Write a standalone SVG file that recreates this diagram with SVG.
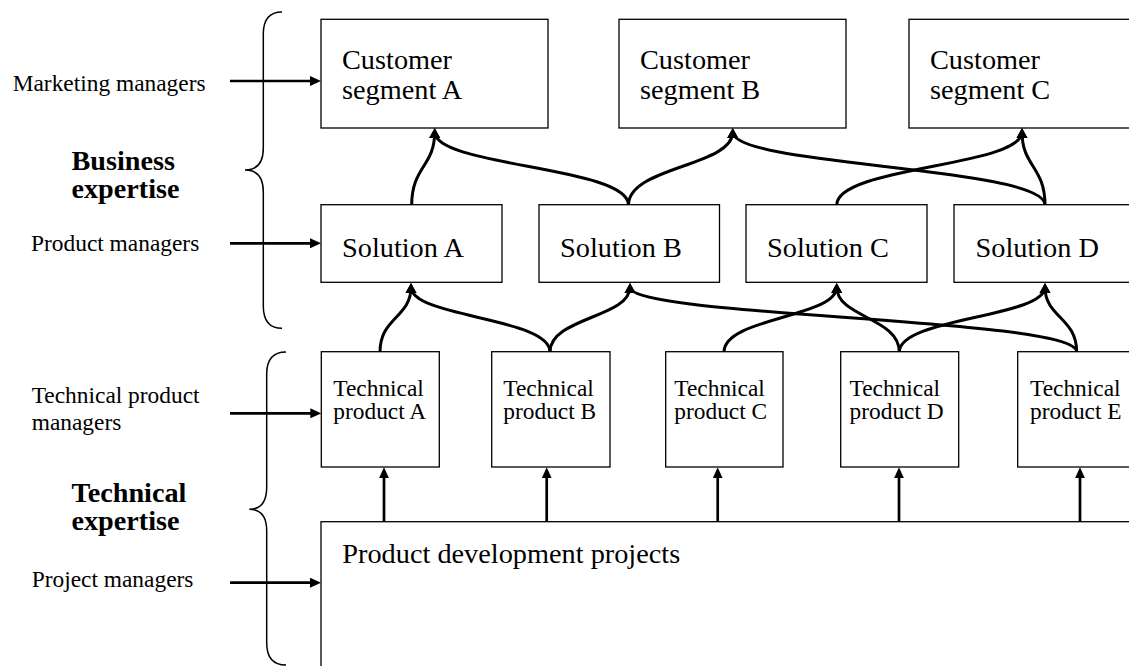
<svg xmlns="http://www.w3.org/2000/svg" width="1129" height="666" viewBox="0 0 1129 666">
  <style>
    .box { fill: #fff; stroke: #000; stroke-width: 1.3; }
    .t28 { font-family: "Liberation Serif", "Times New Roman", serif; font-size: 28.3px; fill: #000; }
    .t23 { font-family: "Liberation Serif", "Times New Roman", serif; font-size: 23.4px; fill: #000; }
    .bold { font-family: "Liberation Serif", "Times New Roman", serif; font-size: 28.2px; font-weight: bold; fill: #000; }
    .brace { fill: none; stroke: #000; stroke-width: 1.5; }
    .curve { fill: none; stroke: #000; stroke-width: 3; marker-end: url(#headCurve); }
    .straight { fill: none; stroke: #000; stroke-width: 2.7; marker-end: url(#head); }
  </style>
  <defs>
    <marker id="head" markerUnits="userSpaceOnUse" viewBox="0 0 11 10" markerWidth="11" markerHeight="10" refX="7" refY="5" orient="auto">
      <path d="M0,0 L11,5 L0,10 z" fill="#000"/>
    </marker>
    <marker id="headCurve" markerUnits="userSpaceOnUse" viewBox="0 0 10 12" markerWidth="10" markerHeight="12" refX="6" refY="6" orient="auto">
      <path d="M0,0.5 L10,6 L0,11.5 z" fill="#000"/>
    </marker>
  </defs>

  <rect width="1129" height="666" fill="#fff"/>

  <!-- role labels on the left -->
  <g id="roles">
    <text class="t23" x="12.7" y="90.7">Marketing managers</text>
    <text class="t23" x="31" y="250.7">Product managers</text>
    <text class="t23" x="31.7" y="403.3">Technical product</text>
    <text class="t23" x="31.7" y="430">managers</text>
    <text class="t23" x="31.7" y="586.7">Project managers</text>
    <text class="bold" x="71.5" y="169.5">Business</text>
    <text class="bold" x="71.5" y="197.5">expertise</text>
    <text class="bold" x="71.5" y="502">Technical</text>
    <text class="bold" x="71.5" y="530">expertise</text>
  </g>

  <!-- curly braces grouping the roles -->
  <g id="braces">
    <path class="brace" d="M282,12 Q263.3,12 263.3,34 L263.3,148 Q263.3,170 245,170 Q263.3,170 263.3,192 L263.3,306 Q263.3,328.3 282,328.3"/>
    <path class="brace" d="M286,352 Q266.7,352 266.7,374 L266.7,487 Q266.7,509.3 249.3,509.3 Q266.7,509.3 266.7,531 L266.7,643 Q266.7,665 286,665"/>
  </g>

  <!-- customer segments -->
  <g id="cust-a">
    <rect class="box" x="321" y="19.3" width="227" height="108.7"/>
    <text class="t28" x="342" y="69.3">Customer</text>
    <text class="t28" x="342" y="99">segment A</text>
  </g>
  <g id="cust-b">
    <rect class="box" x="619" y="19.3" width="227" height="108.7"/>
    <text class="t28" x="640" y="69.3">Customer</text>
    <text class="t28" x="640" y="99">segment B</text>
  </g>
  <g id="cust-c">
    <rect class="box" x="909" y="19.3" width="240" height="108.7"/>
    <text class="t28" x="930" y="69.3">Customer</text>
    <text class="t28" x="930" y="99">segment C</text>
  </g>

  <!-- solutions -->
  <g id="sol-a">
    <rect class="box" x="321" y="204.7" width="181" height="77.6"/>
    <text class="t28" x="342" y="256.7">Solution A</text>
  </g>
  <g id="sol-b">
    <rect class="box" x="539" y="204.7" width="180.5" height="77.6"/>
    <text class="t28" x="560" y="256.7">Solution B</text>
  </g>
  <g id="sol-c">
    <rect class="box" x="746" y="204.7" width="181" height="77.6"/>
    <text class="t28" x="767" y="256.7">Solution C</text>
  </g>
  <g id="sol-d">
    <rect class="box" x="954" y="204.7" width="200" height="77.6"/>
    <text class="t28" x="975.5" y="256.7">Solution D</text>
  </g>

  <!-- technical products -->
  <g id="tech-a">
    <rect class="box" x="321.3" y="351.7" width="118" height="115.3"/>
    <text class="t23" x="333.3" y="395.7">Technical</text>
    <text class="t23" x="333.3" y="419.3">product A</text>
  </g>
  <g id="tech-b">
    <rect class="box" x="491.7" y="351.7" width="118.3" height="115.3"/>
    <text class="t23" x="503.3" y="395.7">Technical</text>
    <text class="t23" x="503.3" y="419.3">product B</text>
  </g>
  <g id="tech-c">
    <rect class="box" x="665.7" y="351.7" width="117.3" height="115.3"/>
    <text class="t23" x="674.3" y="395.7">Technical</text>
    <text class="t23" x="674.3" y="419.3">product C</text>
  </g>
  <g id="tech-d">
    <rect class="box" x="840.7" y="351.7" width="118" height="115.3"/>
    <text class="t23" x="849.5" y="395.7">Technical</text>
    <text class="t23" x="849.5" y="419.3">product D</text>
  </g>
  <g id="tech-e">
    <rect class="box" x="1017.7" y="351.7" width="140" height="115.3"/>
    <text class="t23" x="1030" y="395.7">Technical</text>
    <text class="t23" x="1030" y="419.3">product E</text>
  </g>

  <!-- development projects -->
  <g id="projects">
    <rect class="box" x="321" y="521.7" width="840" height="200"/>
    <text class="t28" x="342.3" y="562.7">Product development projects</text>
  </g>

  <g id="connectors">
    <!-- roles to the levels they manage -->
    <path class="straight" d="M230,81 L317,81"/>
    <path class="straight" d="M230,243.3 L317,243.3"/>
    <path class="straight" d="M230,413.3 L317.3,413.3"/>
    <path class="straight" d="M230,582.7 L317,582.7"/>

    <!-- projects feed the technical products -->
    <path class="straight" d="M384,522 L384,471.3"/>
    <path class="straight" d="M546.7,522 L546.7,471.3"/>
    <path class="straight" d="M717.7,522 L717.7,471.3"/>
    <path class="straight" d="M899,522 L899,471.3"/>
    <path class="straight" d="M1080,522 L1080,471.3"/>

    <!-- solutions serve customer segments -->
    <path class="curve" d="M411.7,205 C411.7,166.5 434.7,166.5 434.7,132"/>
    <path class="curve" d="M628.5,205 C628.5,166.5 434.7,166.5 434.7,132"/>
    <path class="curve" d="M628.5,205 C628.5,166.5 732.7,166.5 732.7,132"/>
    <path class="curve" d="M1045,205 C1045,166.5 732.7,166.5 732.7,132"/>
    <path class="curve" d="M836.7,205 C836.7,166.5 1022,166.5 1022,132"/>
    <path class="curve" d="M1045,205 C1045,166.5 1022,166.5 1022,132"/>

    <!-- technical products build solutions -->
    <path class="curve" d="M380,352 C380,317.5 411,317.5 411,287"/>
    <path class="curve" d="M550,352 C550,317.5 411,317.5 411,287"/>
    <path class="curve" d="M550,352 C550,317.5 630,317.5 630,287"/>
    <path class="curve" d="M724,352 C724,317.5 836.7,317.5 836.7,287"/>
    <path class="curve" d="M899.3,352 C899.3,317.5 836.7,317.5 836.7,287"/>
    <path class="curve" d="M899.3,352 C899.3,317.5 1045,317.5 1045,287"/>
    <path class="curve" d="M1076.7,352 C1076.7,317.5 1045,317.5 1045,287"/>
    <path class="curve" d="M1076.7,352 C1076.7,317.5 630,317.5 630,287"/>
  </g>
</svg>
